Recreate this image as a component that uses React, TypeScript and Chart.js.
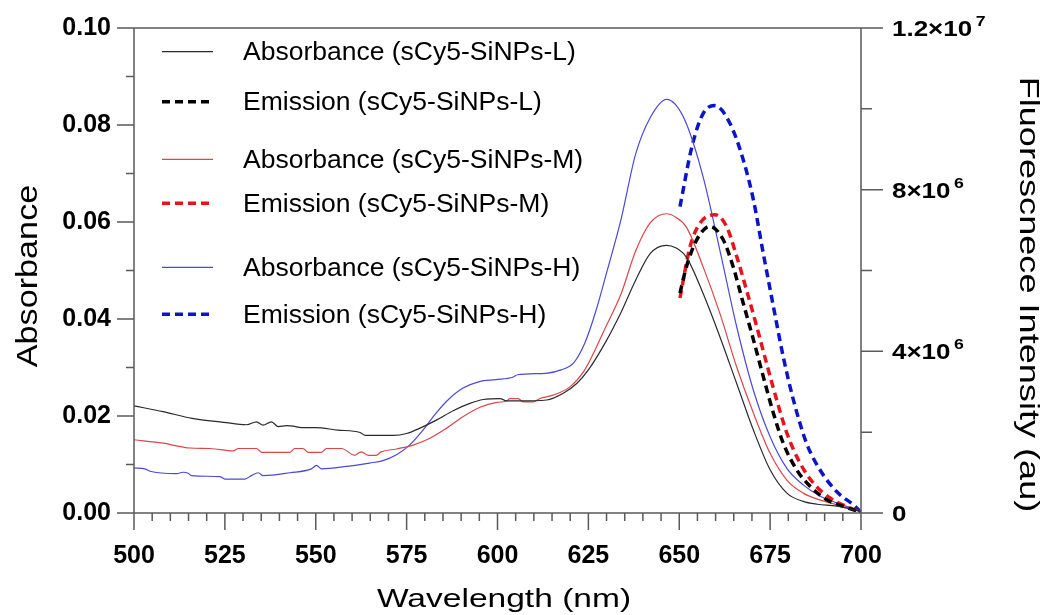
import React, { useEffect, useRef } from 'react';
import { Chart, registerables } from 'chart.js';

Chart.register(...registerables);

const FONT = '"Liberation Sans", Arial, Helvetica, sans-serif';

// ---- tick values & labels ----
const xMajorTicks = [500, 525, 550, 575, 600, 625, 650, 675, 700];
const xMinorTicks = [505, 510, 515, 520, 530, 535, 540, 545, 555, 560, 565, 570, 580, 585, 590, 595,
  605, 610, 615, 620, 630, 635, 640, 645, 655, 660, 665, 670, 680, 685, 690, 695];
const leftMajorTicks = [0, 0.02, 0.04, 0.06, 0.08, 0.1];
const leftTickLabels = ['0.00', '0.02', '0.04', '0.06', '0.08', '0.10'];
const leftMinorTicks = [0.01, 0.03, 0.05, 0.07, 0.09];
const rightMajorTicks = [0, 4e6, 8e6, 1.2e7];
const rightTickMantissa = ['0', '4×10', '8×10', '1.2×10'];
const rightTickExponent = ['', '6', '6', '7'];
const rightMinorTicks = [2e6, 6e6, 1e7];

// ---- Absorbance (left axis) ----
const absL_nm = [500, 508, 516, 524.6, 531, 533.7, 535.5, 537.8, 539.7, 542, 543.8, 546.1, 550, 556, 562.2, 563.6,
  571.4, 575, 578.7, 583.3, 587.8, 592.4, 596.1, 600.7, 602.5, 606.2, 613.5, 618.1, 621.8, 625, 630, 634, 638, 642,
  646.5, 649, 652, 656.6, 661.2, 665.8, 670.4, 675, 679.6, 684.1, 688, 693.3, 700];
const absL_val = [0.0221, 0.0209, 0.0195, 0.0187, 0.0182, 0.0188, 0.0181, 0.0188, 0.0178, 0.018, 0.0179, 0.0176, 0.0176,
  0.0171, 0.0166, 0.016, 0.016, 0.0164, 0.0175, 0.0192, 0.0211, 0.0226, 0.0234, 0.0236, 0.0231, 0.0231, 0.0233,
  0.0247, 0.0267, 0.0295, 0.0356, 0.0414, 0.048, 0.0535, 0.0552, 0.0547, 0.0527, 0.0452, 0.0363, 0.0267, 0.0171,
  0.0089, 0.0041, 0.0024, 0.0018, 0.0014, 0.0003];

const absM_nm = [500, 508, 515.4, 520.9, 527.3, 528.7, 533.7, 535.1, 542.9, 544.2, 546.5, 547.9, 551.6, 552.9, 557.1,
  560.7, 562.5, 564.4, 566.6, 568, 572.2, 576.8, 581.4, 586, 590.6, 595.2, 599.8, 602.5, 603.4, 605.7, 607.1, 609.8,
  611.7, 615.3, 619.9, 624, 630, 634, 638, 642, 646.5, 649, 652, 656.6, 661.2, 665.8, 670.4, 675, 679.6, 684.1, 688.7,
  693.3, 700];
const absM_val = [0.0151, 0.0144, 0.0134, 0.0133, 0.0128, 0.0133, 0.0133, 0.0125, 0.0125, 0.0133, 0.0133, 0.0125,
  0.0125, 0.0133, 0.0133, 0.0119, 0.0126, 0.0119, 0.0119, 0.0126, 0.0132, 0.014, 0.0154, 0.0175, 0.0199, 0.0218,
  0.0228, 0.0231, 0.0236, 0.0236, 0.0229, 0.0229, 0.0236, 0.0243, 0.026, 0.0295, 0.0387, 0.0452, 0.054, 0.0598,
  0.0617, 0.061, 0.0589, 0.0507, 0.0411, 0.0301, 0.0206, 0.0123, 0.0068, 0.0041, 0.0027, 0.0017, 0.0003];

const absH_nm = [500, 503, 504.4, 511.7, 513.5, 514.9, 515.8, 523.6, 525, 530.5, 532.3, 534.2, 535.5, 542.9, 548.8,
  550.2, 551.6, 558.4, 564.8, 568.5, 572.2, 575.8, 579.5, 583.1, 586.8, 590.4, 595, 599.6, 604.2, 605.5, 613.3, 617.5,
  621, 624, 627, 630, 634, 638, 642, 646.5, 649, 652, 656.6, 661.2, 665.8, 670.4, 675, 679.6, 684.1, 688.7, 693.3, 700];
const absH_val = [0.0093, 0.0091, 0.0086, 0.0081, 0.0084, 0.0082, 0.0077, 0.0075, 0.007, 0.007, 0.0077, 0.0083,
  0.0077, 0.0083, 0.0091, 0.0098, 0.0091, 0.0096, 0.0103, 0.0108, 0.012, 0.014, 0.0171, 0.0206, 0.0236, 0.0257,
  0.0271, 0.0275, 0.028, 0.0285, 0.0288, 0.0295, 0.031, 0.035, 0.0415, 0.0495, 0.0606, 0.074, 0.0815, 0.0853, 0.0842,
  0.0802, 0.0692, 0.0541, 0.0384, 0.0253, 0.0157, 0.0092, 0.0058, 0.0035, 0.0021, 0.0003];

// ---- Emission (right axis) ----
const emL_nm = [650.2, 652, 654.8, 658.4, 662.1, 664.8, 667.6, 670.4, 673.1, 675.9, 678.6, 682.3, 686, 690.6, 695.2, 700];
const emL_val = [5.44e6, 6.1e6, 6.76e6, 7.09e6, 6.76e6, 6.1e6, 5.19e6, 4.29e6, 3.38e6, 2.47e6, 1.73e6, 1.07e6, 0.66e6,
  0.33e6, 0.16e6, 0.02e6];
const emM_nm = [650.2, 653, 655.7, 659.8, 663, 665.8, 668.5, 671.3, 674, 676.8, 679.6, 683.2, 686.9, 691.5, 696.1, 700];
const emM_val = [5.32e6, 6.6e6, 7.17e6, 7.38e6, 7.09e6, 6.35e6, 5.52e6, 4.62e6, 3.71e6, 2.8e6, 1.98e6, 1.24e6, 0.74e6,
  0.37e6, 0.16e6, 0.02e6];
const emH_nm = [650.2, 653.5, 656.6, 659.8, 663.9, 667.6, 670.4, 673.1, 675.9, 678.6, 681.4, 685, 688.7, 693.3, 697.9, 700];
const emH_val = [7.58e6, 9.07e6, 9.89e6, 10.08e6, 9.65e6, 8.74e6, 7.75e6, 6.43e6, 5.11e6, 3.87e6, 2.8e6, 1.73e6, 1.07e6,
  0.53e6, 0.2e6, 0.02e6];

const seriesLabels = [
  'Absorbance (sCy5-SiNPs-L)',
  'Emission (sCy5-SiNPs-L)',
  'Absorbance (sCy5-SiNPs-M)',
  'Emission (sCy5-SiNPs-M)',
  'Absorbance (sCy5-SiNPs-H)',
  'Emission (sCy5-SiNPs-H)',
];

const AXIS_COLOR = '#5a5a5a';

const toPoints = (xs: number[], ys: number[]) => xs.map((x, i) => ({ x, y: ys[i] }));

function drawStretched(ctx: CanvasRenderingContext2D, text: string, x: number, y: number, rot: number, sx: number, font: string) {
  ctx.save();
  ctx.translate(x, y);
  ctx.rotate(rot);
  ctx.scale(sx, 1);
  ctx.font = font;
  ctx.fillStyle = '#000';
  ctx.textAlign = 'center';
  ctx.textBaseline = 'alphabetic';
  ctx.fillText(text, 0, 0);
  ctx.restore();
}

const framePlugin = {
  id: 'frameTicksLegend',
  afterDraw(chart: any) {
    const { ctx, chartArea } = chart;
    const { left, right, top, bottom } = chartArea;
    const xs = chart.scales.x;
    const ys = chart.scales.y;
    const y2 = chart.scales.y2;
    ctx.save();
    ctx.strokeStyle = AXIS_COLOR;
    ctx.lineWidth = 1.5;
    ctx.setLineDash([]);
    ctx.beginPath();
    ctx.rect(left, top, right - left, bottom - top);
    xMajorTicks.forEach((v) => { const p = xs.getPixelForValue(v); ctx.moveTo(p, bottom); ctx.lineTo(p, bottom + 17); });
    xMinorTicks.forEach((v) => { const p = xs.getPixelForValue(v); ctx.moveTo(p, bottom); ctx.lineTo(p, bottom + 8); });
    leftMajorTicks.forEach((v) => { const p = ys.getPixelForValue(v); ctx.moveTo(left, p); ctx.lineTo(left - 17, p); });
    leftMinorTicks.forEach((v) => { const p = ys.getPixelForValue(v); ctx.moveTo(left, p); ctx.lineTo(left - 8, p); });
    rightMajorTicks.forEach((v) => { const p = y2.getPixelForValue(v); ctx.moveTo(right, p); ctx.lineTo(right + 22, p); });
    rightMinorTicks.forEach((v) => { const p = y2.getPixelForValue(v); ctx.moveTo(right, p); ctx.lineTo(right + 11, p); });
    ctx.stroke();
    ctx.restore();

    // right-axis tick labels with real superscripts
    rightMajorTicks.forEach((v, i) => {
      const p = y2.getPixelForValue(v);
      ctx.save();
      ctx.translate(right + 31, p);
      ctx.scale(1.18, 1);
      ctx.fillStyle = '#000';
      ctx.textAlign = 'left';
      ctx.textBaseline = 'alphabetic';
      ctx.font = `bold 22px ${FONT}`;
      const m = rightTickMantissa[i];
      ctx.fillText(m, 0, 8);
      const w = ctx.measureText(m).width;
      if (rightTickExponent[i]) {
        ctx.font = `bold 15px ${FONT}`;
        ctx.fillText(rightTickExponent[i], w + 3, -2);
      }
      ctx.restore();
    });

    // axis titles
    drawStretched(ctx, 'Wavelength (nm)', 504, 606.7, 0, 1.29, `26px ${FONT}`);
    drawStretched(ctx, 'Absorbance', 37, 276, -Math.PI / 2, 1.14, `30px ${FONT}`);
    drawStretched(ctx, 'Fluorescnece Intensity (au)', 1020, 294.5, Math.PI / 2, 1.29, `28px ${FONT}`);

    // legend
    const rows = [51.7, 101.7, 159.3, 203.3, 267.3, 314.3];
    chart.data.datasets.forEach((ds: any, i: number) => {
      const yy = rows[i];
      ctx.save();
      ctx.strokeStyle = ds.borderColor;
      ctx.lineWidth = ds.borderWidth;
      ctx.setLineDash(ds.borderDash || []);
      ctx.beginPath();
      ctx.moveTo(162, yy);
      ctx.lineTo(213, yy);
      ctx.stroke();
      ctx.setLineDash([]);
      ctx.font = `26.5px ${FONT}`;
      ctx.fillStyle = '#000';
      ctx.textAlign = 'left';
      ctx.textBaseline = 'middle';
      ctx.fillText(ds.label, 243, yy + 1);
      ctx.restore();
    });
  },
};

const zeroPad = (s: any) => { s.paddingTop = 0; s.paddingBottom = 0; s.paddingLeft = 0; s.paddingRight = 0; };

export default function App() {
  const canvasRef = useRef<HTMLCanvasElement | null>(null);

  useEffect(() => {
    document.body.style.margin = '0';
    const canvas = canvasRef.current;
    if (!canvas) return;

    const absStyle = (color: string) => ({
      yAxisID: 'y', borderColor: color, backgroundColor: color, borderWidth: 1.2, pointRadius: 0,
      fill: false, cubicInterpolationMode: 'monotone' as const,
    });
    const emStyle = (color: string) => ({
      yAxisID: 'y2', borderColor: color, backgroundColor: color, borderWidth: 3.5, borderDash: [8, 5],
      pointRadius: 0, fill: false, cubicInterpolationMode: 'monotone' as const,
    });

    const tickFont = { family: FONT, size: 25, weight: 'bold' as const };

    const chart = new Chart(canvas, {
      type: 'line',
      data: {
        datasets: [
          { label: seriesLabels[0], data: toPoints(absL_nm, absL_val), ...absStyle('#2a2a2a') },
          { label: seriesLabels[1], data: toPoints(emL_nm, emL_val), ...emStyle('#000000') },
          { label: seriesLabels[2], data: toPoints(absM_nm, absM_val), ...absStyle('#d8474a') },
          { label: seriesLabels[3], data: toPoints(emM_nm, emM_val), ...emStyle('#e8141c') },
          { label: seriesLabels[4], data: toPoints(absH_nm, absH_val), ...absStyle('#4a4ad4') },
          { label: seriesLabels[5], data: toPoints(emH_nm, emH_val), ...emStyle('#0a14c8') },
        ] as any,
      },
      options: {
        animation: false,
        responsive: true,
        maintainAspectRatio: false,
        layout: { padding: { top: 28, left: 0, right: 0, bottom: 0 } },
        plugins: { legend: { display: false }, tooltip: { enabled: false }, title: { display: false } },
        scales: {
          x: {
            type: 'linear', position: 'bottom', min: 500, max: 700,
            grid: { display: false, drawTicks: false }, border: { display: false },
            afterBuildTicks: (s: any) => { s.ticks = xMajorTicks.map((v) => ({ value: v })); },
            afterFit: (s: any) => { s.height = 102; zeroPad(s); },
            ticks: { font: tickFont, color: '#000', padding: 28, maxRotation: 0, autoSkip: false,
              callback: (v: any) => String(v) },
          },
          y: {
            type: 'linear', position: 'left', min: 0, max: 0.1,
            grid: { display: false, drawTicks: false }, border: { display: false },
            afterBuildTicks: (s: any) => { s.ticks = leftMajorTicks.map((v) => ({ value: v })); },
            afterFit: (s: any) => { s.width = 134; zeroPad(s); },
            ticks: { font: tickFont, color: '#000', padding: 23, autoSkip: false,
              callback: (_v: any, i: number) => leftTickLabels[i] },
          },
          y2: {
            type: 'linear', position: 'right', min: 0, max: 1.2e7,
            grid: { display: false, drawTicks: false }, border: { display: false },
            afterBuildTicks: (s: any) => { s.ticks = rightMajorTicks.map((v) => ({ value: v })); },
            afterFit: (s: any) => { s.width = 188; zeroPad(s); },
            ticks: { display: false },
          },
        },
      } as any,
      plugins: [framePlugin],
    });

    return () => chart.destroy();
  }, []);

  return (
    <div style={{ width: 1049, height: 615, position: 'relative', overflow: 'hidden', background: '#fff' }}>
      <canvas ref={canvasRef} />
    </div>
  );
}
